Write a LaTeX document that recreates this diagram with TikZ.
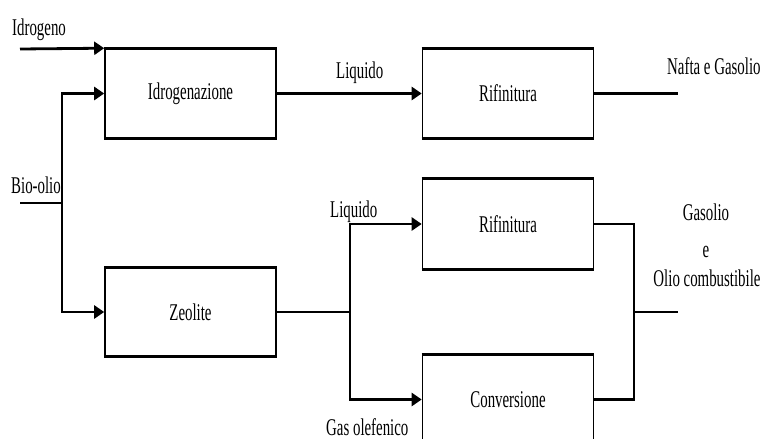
\documentclass[tikz,border=0pt]{standalone}
\usepackage{fontspec}
\setmainfont{Liberation Serif}[FakeStretch=0.62]
\usetikzlibrary{arrows.meta}
\begin{document}
\begin{tikzpicture}[x=1pt,y=-1pt,
  font=\fontsize{24}{27}\selectfont,
  unitbox/.style={draw, line width=1.6pt, minimum width=171pt, minimum height=89pt, inner sep=0pt},
  conn/.style={line width=2.8pt},
  flow/.style={conn, -{Triangle[length=10pt,width=13pt]}},
  lbl/.style={inner sep=0pt, anchor=base west},
  edge/.style={line width=3.2pt}]
\useasboundingbox (0,0) rectangle (761,439);

% process units
\node[unitbox] (idro) at (190.5,93.5) {Idrogenazione};
\node[unitbox] (rif1) at (508,93.5) {Rifinitura};
\node[unitbox, minimum height=88pt] (zeo) at (190.5,312) {Zeolite};
\node[unitbox] (rif2) at (508,224) {Rifinitura};
\node[unitbox] (conv) at (508,399.5) {Conversione};
% heavier top and bottom edges of the units
\foreach \b in {idro,rif1,zeo,rif2,conv}{
  \draw[edge] (\b.north west) -- (\b.north east);
  \draw[edge] (\b.south west) -- (\b.south east);
}

% junction and free-end points
\coordinate (h2in) at (20,49);
\coordinate (bioin) at (20,203);
\coordinate (biosplit) at (62,203);
\coordinate (zsplit) at (350,312);
\coordinate (rjoin) at (634,312);
\coordinate (naftaout) at (678,93.5);
\coordinate (gasout) at (678,312);

% streams
\draw[flow] (h2in) -- (idro.north west);
\draw[conn] (bioin) -- (biosplit);
\draw[flow] (biosplit) |- (idro.west);
\draw[flow] (biosplit) |- (zeo.west);
\draw[flow] (idro.east) -- (rif1.west);
\draw[conn] (rif1.east) -- (naftaout);
\draw[conn] (zeo.east) -- (zsplit);
\draw[flow] (zsplit) |- (rif2.west);
\draw[flow] (zsplit) |- (conv.west);
\draw[conn] (rif2.east) -| (rjoin);
\draw[conn] (conv.east) -| (rjoin);
\draw[conn] (rjoin) -- (gasout);

% stream labels
\node[lbl] (lh2) at (12,35) {Idrogeno};
\node[lbl] (lbio) at (11,193) {Bio-olio};
\node[lbl] (lliq1) at (336,78) {Liquido};
\node[lbl] (lnafta) at (667,74) {Nafta e Gasolio};
\node[lbl] (lliq2) at (330,217) {Liquido};
\node[lbl] (lgas) at (326,435) {Gas olefenico};
\node[inner sep=0pt, anchor=base] (lgasolio) at (706,220) {Gasolio};
\node[inner sep=0pt, anchor=base] (le) at (706,257) {e};
\node[inner sep=0pt, anchor=base] (lolio) at (707,286) {Olio combustibile};
\end{tikzpicture}
\end{document}
